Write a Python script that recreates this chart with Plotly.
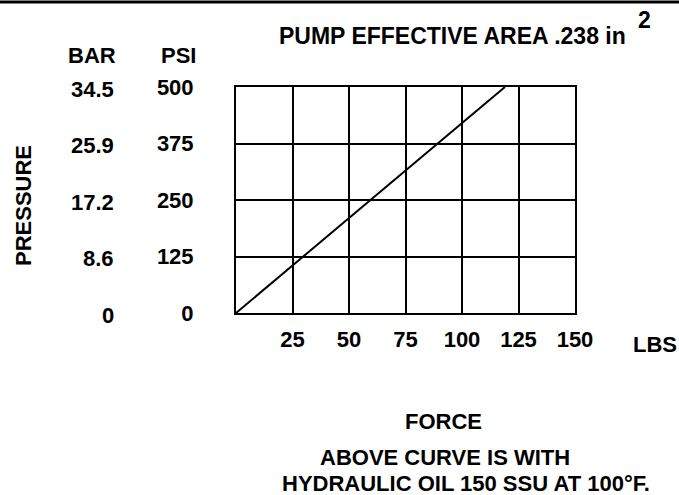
import plotly.graph_objects as go

force_lbs = [0, 119]
pressure_psi = [0, 500]
psi_ticks = [0, 125, 250, 375, 500]
bar_labels = ["0", "8.6", "17.2", "25.9", "34.5"]
force_ticks = [25, 50, 75, 100, 125, 150]

W, H = 679, 495
L, R, T, B = 236, 104, 87, 182
pw, ph = W - L - R, H - T - B

def px(x):
    return (x - L) / pw

def py(y):
    return (H - B - y) / ph

FONT = dict(family="Liberation Sans, Arial, sans-serif", size=22, color="black",
            weight="bold")
FONT_T = dict(FONT, size=23)

fig = go.Figure()
fig.add_trace(go.Scatter(x=force_lbs, y=pressure_psi, mode="lines",
                         line=dict(color="black", width=2), showlegend=False,
                         hoverinfo="skip"))

fig.update_layout(
    width=W, height=H,
    margin=dict(l=L, r=R, t=T, b=B),
    paper_bgcolor="white", plot_bgcolor="white",
    font=FONT,
    showlegend=False,
)
fig.update_xaxes(range=[0, 150], tickvals=force_ticks, ticktext=[str(v) for v in force_ticks],
                 showgrid=True, gridcolor="black", gridwidth=2,
                 showline=True, linecolor="black", linewidth=2, mirror=True,
                 zeroline=False, ticks="", ticklabelstandoff=6,
                 tickfont=FONT)
fig.update_yaxes(range=[0, 500], tickvals=psi_ticks, ticktext=[str(v) for v in psi_ticks],
                 showgrid=True, gridcolor="black", gridwidth=2,
                 showline=True, linecolor="black", linewidth=2, mirror=True,
                 zeroline=False, ticks="", ticklabelstandoff=36,
                 tickfont=FONT)

# BAR column labels
for v, lab in zip(psi_ticks, bar_labels):
    fig.add_annotation(x=px(116), xref="paper", y=v, yref="y", text=lab,
                       showarrow=False, xanchor="right", yanchor="middle",
                       yshift=-2, font=FONT)

texts = [
    ("PUMP EFFECTIVE AREA .238 in", 277, 36, "left", 0, FONT_T),
    ("2", 644, 20.5, "center", 0, FONT_T),
    ("BAR", 92, 55, "center", 0, FONT),
    ("PSI", 178, 55, "center", 0, FONT),
    ("LBS", 655, 344, "center", 0, FONT),
    ("FORCE", 443, 421, "center", 0, FONT),
    ("ABOVE CURVE IS WITH", 445, 457, "center", 0, FONT),
    ("HYDRAULIC OIL 150 SSU AT 100°F.", 465.5, 483, "center", 0, FONT),
    ("PRESSURE", 23, 206, "center", -90, FONT),
]
for t, x, y, xa, ang, f in texts:
    fig.add_annotation(x=px(x), y=py(y), xref="paper", yref="paper", text=t,
                       showarrow=False, xanchor=xa, yanchor="middle",
                       textangle=ang, font=f)

# top border rule
fig.add_shape(type="line", xref="paper", yref="paper", layer="above",
              x0=px(0), x1=px(W), y0=py(2), y1=py(2),
              line=dict(color="black", width=3))

fig.write_html("out.html", config={"displayModeBar": False},
               post_script="document.body.style.margin='0px';document.body.style.overflow='hidden';")
